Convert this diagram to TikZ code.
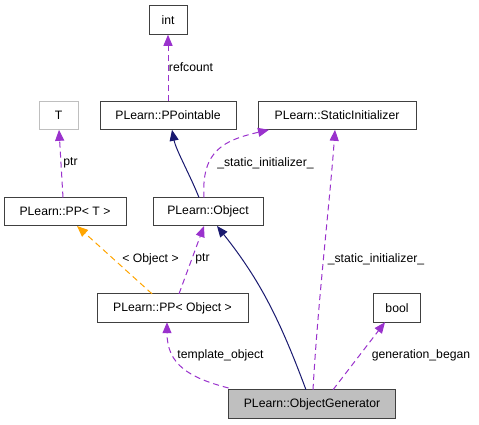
\documentclass[tikz,border=0pt]{standalone}
\usepackage{fontspec}
\setmainfont{Liberation Sans}
\usetikzlibrary{arrows.meta}
\definecolor{edgepurple}{HTML}{9A32CD}
\definecolor{edgenavy}{HTML}{191970}
\definecolor{edgeorange}{HTML}{FFA500}
\definecolor{boxline}{HTML}{404040}
\definecolor{fillgray}{HTML}{BFBFBF}
\tikzset{
  cls/.style={draw=boxline, line width=1pt, rectangle, inner sep=0pt, minimum height=28.5pt, font=\fontsize{12.2}{14}\selectfont},
  lbl/.style={inner sep=0pt, font=\fontsize{12.2}{14}\selectfont},
  usage/.style={draw=edgepurple, line width=1pt, dash pattern=on 6pt off 4pt, -{Triangle[length=11pt,width=9pt,fill=edgepurple]}},
  inherit/.style={draw=edgenavy, line width=1pt, -{Triangle[length=11pt,width=9pt,fill=edgenavy]}},
  templ/.style={draw=edgeorange, line width=1pt, dash pattern=on 6pt off 4pt, -{Triangle[length=11pt,width=9pt,fill=edgeorange]}},
}
\begin{document}
\begin{tikzpicture}[x=1pt,y=-1pt]
\useasboundingbox[fill=white] (0,0) rectangle (479,424);
% nodes
\node[cls, minimum width=38pt] (int) at (168,20) {int};
\node[cls, draw=fillgray, minimum width=39pt] (T) at (58.5,115.5) {T};
\node[cls, minimum width=136pt] (ppointable) at (168,115.5) {PLearn::PPointable};
\node[cls, minimum width=158pt] (static) at (337,115.5) {PLearn::StaticInitializer};
\node[cls, minimum width=122pt] (ppt) at (65,211.7) {PLearn::PP< T >};
\node[cls, minimum width=110pt] (object) at (208,211.7) {PLearn::Object};
\node[cls, minimum width=151pt] (ppobj) at (172.5,308) {PLearn::PP< Object >};
\node[cls, minimum width=47pt] (bool) at (397,308) {bool};
\node[cls, fill=fillgray, minimum width=167pt] (gen) at (312,404) {PLearn::ObjectGenerator};
% anchor points
\coordinate (a1) at (168,101.2);
\coordinate (a2) at (63,197.5);
\coordinate (a3) at (199,197.5);
\coordinate (a4) at (204,197.5);
\coordinate (a5) at (313,389.8);
\coordinate (a6) at (152,293.8);
\coordinate (a7) at (179,293.8);
\coordinate (a8) at (306,389.8);
\coordinate (a9) at (228.6,388);
\coordinate (a10) at (333,389.8);
% edges
\draw[usage] (a1) -- (int.south);
\draw[usage] (a2) -- (59,129.8) coordinate (tT);
\draw[inherit] (a3) .. controls (190,175) and (176,150) .. (172,129.8) coordinate (tP);
\draw[usage] (a4) .. controls (201,150) and (225,140) .. (269,129.8) coordinate (tS1);
\draw[usage] (a5) .. controls (318,300) and (330,200) .. (335,129.8) coordinate (tS2);
\draw[templ] (a6) -- (77,226) coordinate (tPT);
\draw[usage] (a7) -- (204,226) coordinate (tO1);
\draw[inherit] (a8) .. controls (280,320) and (260,280) .. (217,226) coordinate (tO2);
\draw[usage] (a9) .. controls (190,378) and (167,365) .. (167,322.2) coordinate (tPO);
\draw[usage] (a10) -- (385,322.2) coordinate (tB);
% labels
\node[lbl] (l1) at (191,66.7) {refcount};
\node[lbl] (l2) at (70.5,163) {ptr};
\node[lbl] (l3) at (265.5,163) {\_static\_initializer\_};
\node[lbl] (l4) at (376,259) {\_static\_initializer\_};
\node[lbl] (l5) at (150.5,259) {< Object >};
\node[lbl] (l6) at (202.5,259) {ptr};
\node[lbl] (l7) at (220.5,355) {template\_object};
\node[lbl] (l8) at (421,355) {generation\_began};
\end{tikzpicture}
\end{document}
